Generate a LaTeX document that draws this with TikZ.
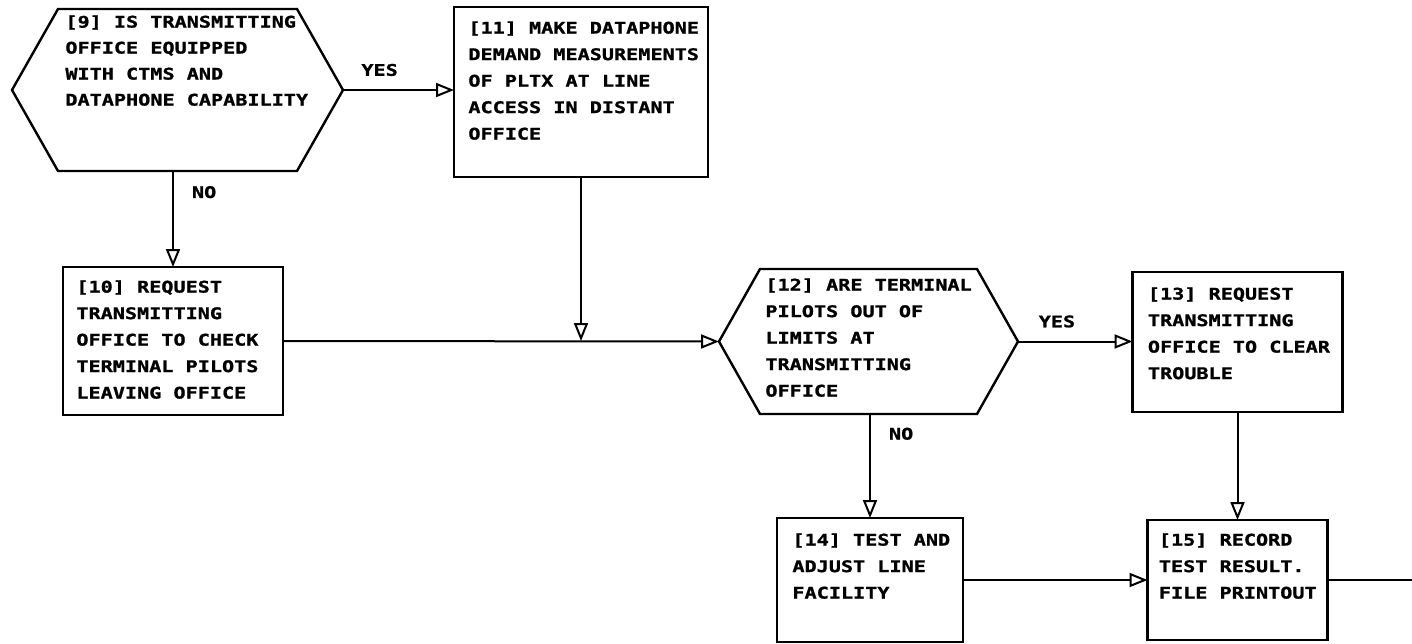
\documentclass[tikz,border=0pt]{standalone}
\usepackage{fontspec}
\usetikzlibrary{positioning, arrows.meta, calc}
\newfontfamily\plotfont{DejaVu Sans Mono Bold}[FakeStretch=1.26, FakeBold=1.2]
% contorno hexagonal sobre o nó #1, recuo #2 das pontas
\newcommand{\hexa}[2]{%
  \draw[border] (#1.west) -- ($(#1.north west)+(#2,0)$) -- ($(#1.north east)+(-#2,0)$)
    -- (#1.east) -- ($(#1.south east)+(-#2,0)$) -- ($(#1.south west)+(#2,0)$) -- cycle;}

\begin{document}
\begin{tikzpicture}[
    x=0.5pt, y=-0.5pt,  % unidade = pixel da figura
    border/.style={line width=1.2pt, line join=miter},
    box/.style={draw, border, inner sep=0pt, outer sep=0pt},
    hexbase/.style={inner sep=0pt, outer sep=0pt},
    txt/.style={anchor=north west, inner sep=0pt, align=left,
      font=\plotfont\fontsize{8}{13.25}\selectfont},
    lbl/.style={inner sep=0pt, font=\plotfont\fontsize{8}{13.25}\selectfont},
    flow/.style={draw, line width=1pt, -{Triangle[open, length=9pt, width=7pt]}},
    line/.style={draw, line width=1pt}
  ]
  \useasboundingbox (0,0) rectangle (1412,643);

  % --- CAIXAS E DECISÕES ---
  \node[hexbase, minimum width=165.5pt, minimum height=81pt] (h9) at (177.5,90) {};
  \hexa{h9}{46}
  \node[box, minimum width=127pt, minimum height=85pt] (b11) at (581,92) {};
  \node[box, minimum width=110pt, minimum height=74pt] (b10) at (173,341) {};
  \node[hexbase, minimum width=149.5pt, minimum height=72.5pt] (h12) at (868.5,341.5) {};
  \hexa{h12}{41}
  \node[box, minimum width=105pt, minimum height=70pt] (b13) at (1237.5,342) {};
  \node[box, minimum width=93pt, minimum height=62pt] (b14) at (870,580) {};
  \node[box, minimum width=90pt, minimum height=60pt] (b15) at (1237.5,580) {};

  % --- TEXTOS ---
  \node[txt, font=\plotfont\fontsize{8}{13}\selectfont] (t9) at ($(h9.north west)+(53,6)$)
    {[9] IS TRANSMITTING\\OFFICE EQUIPPED\\WITH CTMS AND\\DATAPHONE CAPABILITY};
  \node[txt] (t11) at ($(b11.north west)+(14,14)$)
    {[11] MAKE DATAPHONE\\DEMAND MEASUREMENTS\\OF PLTX AT LINE\\ACCESS IN DISTANT\\OFFICE};
  \node[txt] (t10) at ($(b10.north west)+(13,13)$)
    {[10] REQUEST\\TRANSMITTING\\OFFICE TO CHECK\\TERMINAL PILOTS\\LEAVING OFFICE};
  \node[txt] (t12) at ($(h12.north west)+(46,9)$)
    {[12] ARE TERMINAL\\PILOTS OUT OF\\LIMITS AT\\TRANSMITTING\\OFFICE};
  \node[txt] (t13) at ($(b13.north west)+(15,15)$)
    {[13] REQUEST\\TRANSMITTING\\OFFICE TO CLEAR\\TROUBLE};
  \node[txt] (t14) at ($(b14.north west)+(15,15)$)
    {[14] TEST AND\\ADJUST LINE\\FACILITY};
  \node[txt] (t15) at ($(b15.north west)+(11,13)$)
    {[15] RECORD\\TEST RESULT.\\FILE PRINTOUT};

  % --- LIGAÇÕES ---
  \coordinate (j) at (b11.south |- b10.east);
  \coordinate (out) at (1412,580);

  % Do [9]
  \path (h9.east) edge[flow] node[lbl, pos=0.33, above=6.5pt] {YES} (h9.east -| b11.west);
  \path (b10.north |- h9.south) edge[flow] node[lbl, pos=0.22, right=9pt] {NO} (b10.north);

  % Do [10] e [11]
  \path (b10.east) edge[flow] (h12.west);
  \path (b11.south) edge[flow] (j);

  % Do [12]
  \path (h12.east) edge[flow] node[lbl, pos=0.34, above=6.5pt] {YES} (h12.east -| b13.west);
  \path (b14.north |- h12.south) edge[flow] node[lbl, pos=0.19, right=9pt] {NO} (b14.north);

  % Para [15]
  \path (b13.south) edge[flow] (b15.north);
  \path (b14.east) edge[flow] (b15.west);
  \path (b15.east) edge[line] (out);

\end{tikzpicture}
\end{document}
